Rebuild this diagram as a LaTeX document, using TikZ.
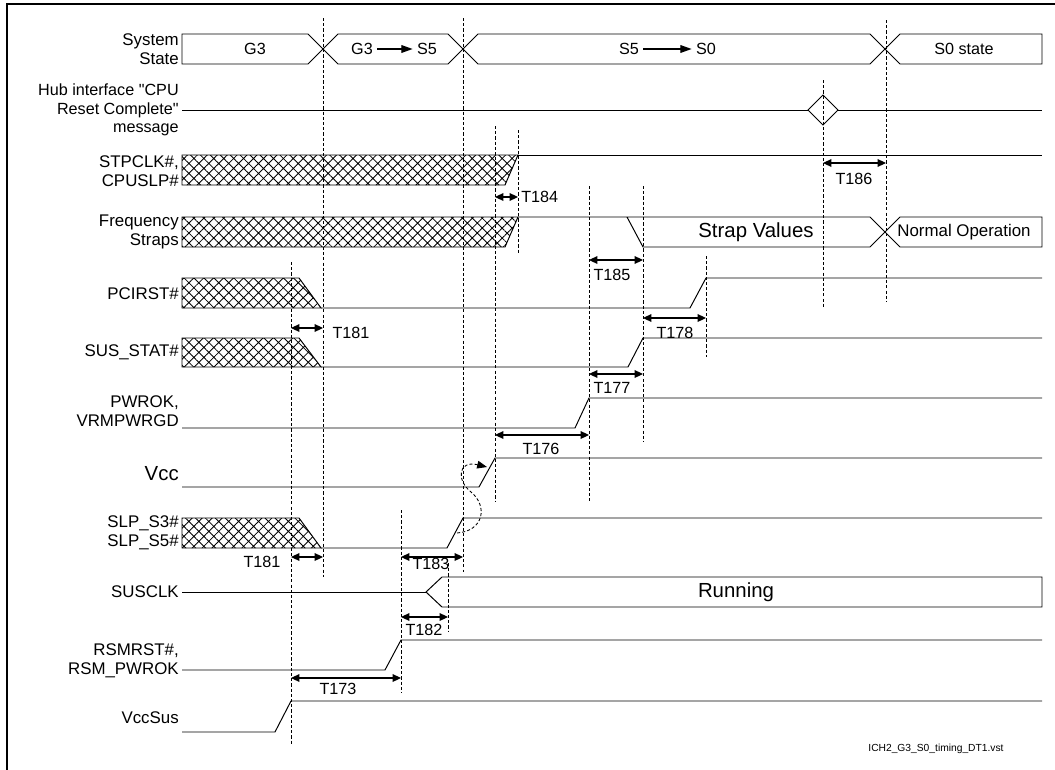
\documentclass[tikz,border=0pt]{standalone}
\usepackage{fontspec}
\setmainfont{Liberation Sans}
\usepackage{tikz}
\usetikzlibrary{arrows.meta, patterns.meta}

\begin{document}
\begin{tikzpicture}[
    x=0.025cm, y=-0.025cm,
    sig/.style={line width=0.7pt},
    hatch/.style={sig, pattern={Hatch[angle=45, distance=5pt, line width=0.6pt]}},
    guide/.style={line width=0.5pt, dash pattern=on 2.2pt off 1.5pt},
    timearrow/.style={{Triangle[length=6pt, width=5.5pt]}-{Triangle[length=6pt, width=5.5pt]}, line width=0.8pt},
    statearrow/.style={-{Triangle[length=8pt, width=5.5pt]}, line width=0.8pt, shorten <=3pt, shorten >=3pt},
    lbl/.style={anchor=east, align=right, inner sep=0pt, font=\fontsize{12}{13.5}\selectfont},
    tlabel/.style={inner sep=0pt, font=\fontsize{11.5}{13}\selectfont},
    big/.style={inner sep=0pt, font=\fontsize{14.5}{17}\selectfont}
]
\useasboundingbox (0,0) rectangle (1055,770);

\draw[line width=1.8pt] (7,770) -- (7,4) -- (1055,4);

\draw[guide] (291,262) -- (291,744);
\draw[guide] (323,18) -- (323,577);
\draw[guide] (401,510) -- (401,693);
\draw[guide] (448,563) -- (448,632);
\draw[guide] (463,18) -- (463,572);
\draw[guide] (495,126) -- (495,502);
\draw[guide] (518,130) -- (518,253);
\draw[guide] (589,186) -- (589,502);
\draw[guide] (643,186) -- (643,442);
\draw[guide] (706,256) -- (706,357);
\draw[guide] (823,80) -- (823,307);
\draw[guide] (886,20) -- (886,302);

\node[lbl] (sysstate) at (179,49) {System\\State};
\draw[sig] (182,34) -- (308,34) -- (323,49) -- (308,64) -- (182,64) -- cycle;
\draw[sig] (323,49) -- (338,34) -- (448,34) -- (463,49) -- (448,64) -- (338,64) -- cycle;
\draw[sig] (463,49) -- (478,34) -- (870,34) -- (885,49) -- (870,64) -- (478,64) -- cycle;
\draw[sig] (885,49) -- (900,34) -- (1042,34) -- (1042,64) -- (900,64) -- cycle;
\node[tlabel] (g3) at (255,49) {G3};
\node[tlabel] (g3b) at (362,49) {G3};
\node[tlabel] (s5a) at (427,49) {S5};
\draw[statearrow] (g3b) -- (s5a);
\node[tlabel] (s5b) at (629,49) {S5};
\node[tlabel] (s0a) at (706,49) {S0};
\draw[statearrow] (s5b) -- (s0a);
\node[tlabel] (s0state) at (964,49) {S0 state};

\node[lbl, font=\fontsize{11.5}{13}\selectfont] (hub) at (179,110) {Hub interface \textquotedbl CPU\\Reset Complete\textquotedbl\\message};
\draw[sig] (182,110) -- (808,110);
\draw[sig] (808,110) -- (823,95) -- (838,110) -- (823,125) -- cycle;
\draw[sig] (838,110) -- (1042,110);

\node[lbl] (stpclk) at (179,171) {STPCLK\#,\\CPUSLP\#};
\draw[hatch] (182,155) -- (518,155) -- (505,185) -- (182,185) -- cycle;
\draw[sig] (518,155) -- (1042,155);

\node[lbl] (straps) at (179,232) {Frequency\\Straps};
\draw[hatch] (182,217) -- (518,217) -- (505,247) -- (182,247) -- cycle;
\draw[sig] (518,217) -- (870,217) -- (885,232) -- (900,217) -- (1042,217) -- (1042,247) -- (900,247) -- (885,232) -- (870,247) -- (643,247) -- (627,217);
\node[big] (strapval) at (756,232) {Strap Values};
\node[tlabel, font=\fontsize{12}{13}\selectfont] (normop) at (964,232) {Normal Operation};

\node[lbl] (pcirst) at (179,294) {PCIRST\#};
\draw[hatch] (182,278) -- (299,278) -- (321,308) -- (182,308) -- cycle;
\draw[sig] (321,308) -- (690,308) -- (706,278) -- (1042,278);

\node[lbl] (susstat) at (179,352) {SUS\_STAT\#};
\draw[hatch] (182,338) -- (299,338) -- (321,367) -- (182,367) -- cycle;
\draw[sig] (321,367) -- (628,367) -- (643,338) -- (1042,338);

\node[lbl] (pwrok) at (179,411) {PWROK,\\VRMPWRGD};
\draw[sig] (182,428) -- (575,428) -- (589,398) -- (1042,398);

\node[lbl, font=\fontsize{14.5}{17}\selectfont] (vcc) at (179,474) {Vcc};
\draw[sig] (182,487) -- (479,487) -- (495,458) -- (1042,458);

\node[lbl] (slp) at (179,533) {SLP\_S3\#\\SLP\_S5\#};
\draw[hatch] (182,518) -- (299,518) -- (321,548) -- (182,548) -- cycle;
\draw[sig] (321,548) -- (447,548) -- (463,518) -- (1042,518);

\coordinate (slprise) at (457,533);
\coordinate (vccrise) at (487,467);
\draw[guide, line width=0.6pt, -{Triangle[length=7pt, width=5.5pt]}] (slprise) .. controls (484,531) and (488,506) .. (471,492) .. controls (456,480) and (458,460) .. (vccrise);

\node[lbl] (susclk) at (179,592) {SUSCLK};
\draw[sig] (182,592) -- (426,592);
\draw[sig] (1042,577) -- (442,577) -- (426,592) -- (442,607) -- (1042,607) -- cycle;
\node[big] (running) at (736,592) {Running};

\node[lbl] (rsmrst) at (179,661) {RSMRST\#,\\RSM\_PWROK};
\draw[sig] (182,670) -- (385,670) -- (401,640) -- (1042,640);

\node[lbl] (vccsus) at (179,718) {VccSus};
\draw[sig] (182,732) -- (275,732) -- (291,701) -- (1042,701);

\coordinate (t184l) at (495,197); \coordinate (t184r) at (518,197);
\draw[timearrow] (t184l) -- (t184r);
\node[tlabel, anchor=west] (t184) at (521,197) {T184};

\coordinate (t186l) at (823,163); \coordinate (t186r) at (886,163);
\draw[timearrow] (t186l) -- (t186r);
\node[tlabel] (t186) at (854,179) {T186};

\coordinate (t185l) at (589,260); \coordinate (t185r) at (643,260);
\draw[timearrow] (t185l) -- (t185r);
\node[tlabel] (t185) at (612,275) {T185};

\coordinate (t181l) at (291,328); \coordinate (t181r) at (323,328);
\draw[timearrow] (t181l) -- (t181r);
\node[tlabel] (t181) at (351,333) {T181};

\coordinate (t178l) at (643,318); \coordinate (t178r) at (706,318);
\draw[timearrow] (t178l) -- (t178r);
\node[tlabel] (t178) at (675,333) {T178};

\coordinate (t177l) at (589,374); \coordinate (t177r) at (643,374);
\draw[timearrow] (t177l) -- (t177r);
\node[tlabel] (t177) at (612,388) {T177};

\coordinate (t176l) at (495,435); \coordinate (t176r) at (589,435);
\draw[timearrow] (t176l) -- (t176r);
\node[tlabel] (t176) at (541,449) {T176};

\coordinate (t181bl) at (291,557); \coordinate (t181br) at (323,557);
\draw[timearrow] (t181bl) -- (t181br);
\node[tlabel] (t181b) at (262,562) {T181};

\coordinate (t183l) at (401,557); \coordinate (t183r) at (463,557);
\draw[timearrow] (t183l) -- (t183r);
\node[tlabel] (t183) at (431,564) {T183};

\coordinate (t182l) at (401,617); \coordinate (t182r) at (448,617);
\draw[timearrow] (t182l) -- (t182r);
\node[tlabel] (t182) at (424,630) {T182};

\coordinate (t173l) at (291,678); \coordinate (t173r) at (401,678);
\draw[timearrow] (t173l) -- (t173r);
\node[tlabel] (t173) at (338,689) {T173};

\node[inner sep=0pt, font=\fontsize{7.3}{9}\selectfont] (fname) at (936,749) {ICH2\_G3\_S0\_timing\_DT1.vst};

\end{tikzpicture}
\end{document}
